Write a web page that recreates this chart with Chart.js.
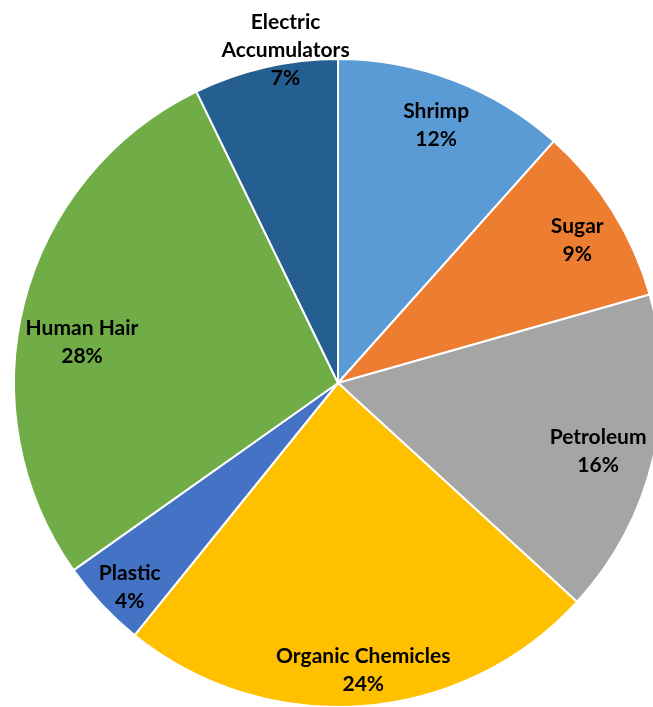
<!DOCTYPE html>
<html>
<head>
<meta charset="utf-8">
<script src="https://cdn.jsdelivr.net/npm/chart.js@4/dist/chart.umd.min.js"></script>
<style>
  html, body { margin: 0; padding: 0; background: #ffffff; overflow: hidden; }
  #wrap { position: absolute; left: 0; top: 0; width: 676px; height: 766px; }
</style>
</head>
<body>
<div id="wrap"><canvas id="c"></canvas></div>
<script>
const categories = ['Shrimp', 'Sugar', 'Petroleum', 'Organic Chemicles', 'Plastic', 'Human Hair', 'Electric Accumulators'];
const values = [11.6, 9.0, 16.2, 24.0, 4.4, 27.6, 7.2];
const colors = ['#5B9BD5', '#ED7D31', '#A5A5A5', '#FFC000', '#4472C4', '#70AD47', '#255E91'];
const labelLines = [['Shrimp'], ['Sugar'], ['Petroleum'], ['Organic Chemicles'], ['Plastic'], ['Human Hair'], ['Electric', 'Accumulators']];
// label placement: fraction of radius along slice mid-angle, plus small angle shift (deg)
const labelRadius = [0.85, 0.86, 0.83, 0.89, 0.90, 0.80, 1.04];
const labelAngleShift = [0, 1.2, 1.4, -0.7, -1.2, -5.4, 4];

const total = values.reduce((a, b) => a + b, 0);

const labelPlugin = {
  id: 'sliceLabels',
  afterDatasetsDraw(chart) {
    const ctx = chart.ctx;
    const meta = chart.getDatasetMeta(0);
    ctx.save();
    ctx.font = 'bold 21px Lato';
    ctx.fillStyle = '#000000';
    ctx.textAlign = 'center';
    ctx.textBaseline = 'middle';
    const lh = 28;
    meta.data.forEach((arc, i) => {
      const p = arc.getProps(['x', 'y', 'startAngle', 'endAngle', 'outerRadius'], true);
      const mid = (p.startAngle + p.endAngle) / 2 + labelAngleShift[i] * Math.PI / 180;
      const r = p.outerRadius * labelRadius[i];
      const cx = p.x + Math.cos(mid) * r;
      const cy = p.y + Math.sin(mid) * r;
      const lines = labelLines[i].concat([Math.round(values[i] / total * 100) + '%']);
      const y0 = cy - (lines.length - 1) * lh / 2;
      lines.forEach((t, k) => ctx.fillText(t, cx, y0 + k * lh));
    });
    ctx.restore();
  }
};

new Chart(document.getElementById('c'), {
  type: 'pie',
  data: {
    labels: categories,
    datasets: [{
      data: values,
      backgroundColor: colors,
      borderColor: '#ffffff',
      borderWidth: 2
    }]
  },
  options: {
    responsive: true,
    maintainAspectRatio: false,
    animation: false,
    layout: { padding: 13 },
    plugins: { legend: { display: false }, tooltip: { enabled: false } }
  },
  plugins: [labelPlugin]
});
</script>
</body>
</html>
